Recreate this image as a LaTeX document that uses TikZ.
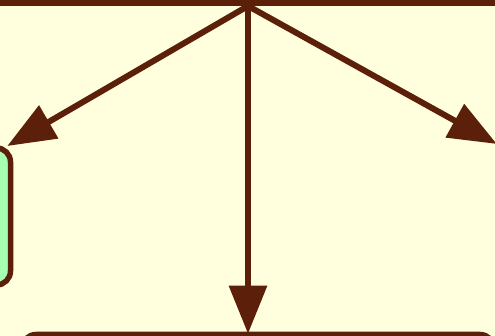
\documentclass[tikz,border=0pt]{standalone}
\usepackage{tikz}
\usetikzlibrary{arrows.meta,positioning}
\definecolor{bgyellow}{HTML}{FFFFDD}
\definecolor{linebrown}{HTML}{5C1F0A}
\definecolor{boxgreen}{HTML}{A6FFB2}
\begin{document}
\begin{tikzpicture}[x=1pt, y=-1pt,
    % Node styles
    box/.style={draw=linebrown, rounded corners=14pt, line width=5.5pt, fill=bgyellow},
    greenbox/.style={box, fill=boxgreen},
    arrow/.style={-{Triangle[length=48pt, width=37pt]}, line width=6pt, color=linebrown, shorten >=-2pt}
]

% Background and frame
\fill[bgyellow] (0,0) rectangle (495,336);
\useasboundingbox (0,0) rectangle (495,336);
\clip (0,0) rectangle (495,336);

% Top box (only its lower edge is seen)
\node[box, line width=6pt, minimum width=600pt, minimum height=100pt] (top) at (248,-47) {};

% Child boxes
\node[greenbox, minimum width=100pt, minimum height=137pt] (left) at (-39.5,216.5) {};
\node[box, minimum width=472pt, minimum height=100pt] (bottom) at (258,384.5) {};
\coordinate (lefttip) at (9,145);
\coordinate (right) at (495,143);

% Arrows from top box
\draw[arrow] (top.south) -- (lefttip);
\draw[arrow] (top.south) -- (bottom.north -| top.south);
\draw[arrow] (top.south) -- (right);

\end{tikzpicture}
\end{document}
